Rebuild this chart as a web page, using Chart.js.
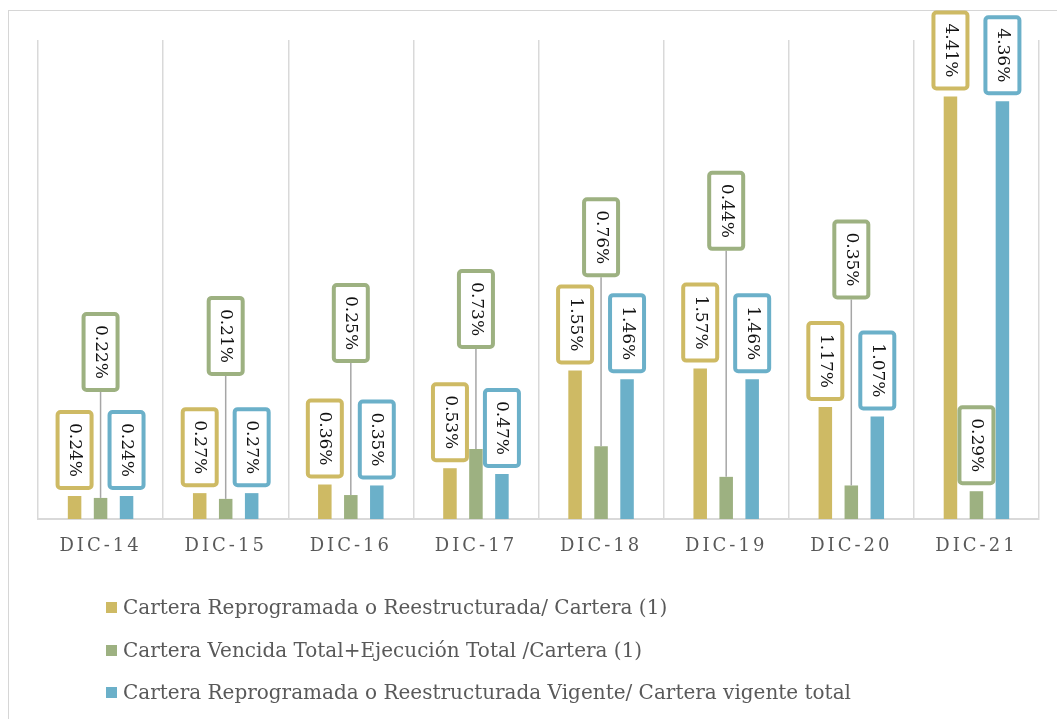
<!DOCTYPE html>
<html>
<head>
<meta charset="utf-8">
<script src="https://cdn.jsdelivr.net/npm/chart.js@4.4.1/dist/chart.umd.min.js"></script>
<style>
  html,body{margin:0;padding:0;background:#fff;overflow:hidden;width:1057px;height:719px;}
  #frame{position:absolute;left:8px;top:10px;width:1200px;height:900px;border:1px solid #d6d6d6;box-sizing:border-box;}
  #c{position:absolute;left:0;top:0;}
  #legend{position:absolute;left:106px;top:595px;font-family:"DejaVu Serif",serif;font-size:20px;color:#595959;}
  .row{height:42.7px;display:flex;align-items:flex-start;white-space:nowrap;}
  .sw{width:11px;height:11px;margin-top:7px;margin-right:6px;flex:none;}
</style>
</head>
<body>
<div id="frame"></div>
<canvas id="c" width="1057" height="719"></canvas>
<div id="legend"></div>
<script>
const categories = ["DIC-14","DIC-15","DIC-16","DIC-17","DIC-18","DIC-19","DIC-20","DIC-21"];
const seriesNames = [
  "Cartera Reprogramada o Reestructurada/ Cartera (1)",
  "Cartera Vencida Total+Ejecución Total /Cartera (1)",
  "Cartera Reprogramada o Reestructurada Vigente/ Cartera vigente total"
];
const reprogramada = [0.24,0.27,0.36,0.53,1.55,1.57,1.17,4.41];
const vencida      = [0.22,0.21,0.25,0.73,0.76,0.44,0.35,0.29];
const vigente      = [0.24,0.27,0.35,0.47,1.46,1.46,1.07,4.36];

const colors = ["#CEBA64","#9DB181","#6BB0C9"];
// extra label lift (px) for the middle series, as placed in the original
const labelLift = [[0,0,0,0,0,0,0,0],[100,117,126,94,163,220,180,0],[0,0,0,0,0,0,0,0]];

const labelPlugin = {
  id:'boxLabels',
  beforeDraw(chart){ chart.ctx.letterSpacing = '3px'; },
  beforeDatasetsDraw(chart){ chart.ctx.letterSpacing = '0px'; },
  afterDatasetsDraw(chart){
    const ctx = chart.ctx;
    ctx.save();
    ctx.letterSpacing = '0px';
    ctx.font = '17px "DejaVu Serif"';
    chart.data.datasets.forEach((ds,di)=>{
      const meta = chart.getDatasetMeta(di);
      meta.data.forEach((bar,i)=>{
        const txt = ds.data[i].toFixed(2)+'%';
        const bw = 38, bh = 80;
        const lift = labelLift[di][i];
        const bottom = bar.y - 6 - lift;
        const top = bottom - bh;
        const left = bar.x - bw/2;
        if (lift > 0){
          ctx.strokeStyle = '#a6a6a6';
          ctx.lineWidth = 1.5;
          ctx.beginPath();
          ctx.moveTo(bar.x, bottom);
          ctx.lineTo(bar.x, bar.y);
          ctx.stroke();
        }
        ctx.beginPath();
        ctx.roundRect(left+2, top+2, bw-4, bh-4, 3);
        ctx.fillStyle = '#fff';
        ctx.fill();
        ctx.lineWidth = 4;
        ctx.strokeStyle = ds.backgroundColor;
        ctx.stroke();
        ctx.save();
        ctx.translate(bar.x, top + bh/2);
        ctx.rotate(Math.PI/2);
        ctx.fillStyle = '#111';
        ctx.textAlign = 'center';
        ctx.textBaseline = 'middle';
        ctx.fillText(txt, 0, 0);
        ctx.restore();
      });
    });
    ctx.restore();
  }
};

const dataSets = [reprogramada, vencida, vigente].map((d,i)=>({
  label: seriesNames[i],
  data: d,
  backgroundColor: colors[i],
  borderWidth: 0,
  categoryPercentage: 0.623,
  barPercentage: 0.52
}));

new Chart(document.getElementById('c'), {
  type:'bar',
  data:{ labels: categories, datasets: dataSets },
  options:{
    responsive:false,
    animation:false,
    layout:{ padding:{ left:38, right:18, top:40, bottom:0 } },
    plugins:{ legend:{display:false}, tooltip:{enabled:false} },
    scales:{
      x:{
        grid:{ display:true, offset:true, color:'#d9d9d9', lineWidth:1.5, drawTicks:false },
        border:{ display:true, color:'#d9d9d9', width:2 },
        ticks:{ color:'#595959', font:{ family:'DejaVu Serif', size:18 }, padding:17, maxRotation:0, autoSkip:false },
        afterFit(s){ s.height = 200; }
      },
      y:{ display:false, min:0, max:5 }
    }
  },
  plugins:[labelPlugin]
});

const lg = document.getElementById('legend');
seriesNames.forEach((n,i)=>{
  const r = document.createElement('div'); r.className='row';
  const s = document.createElement('span'); s.className='sw'; s.style.background = colors[i];
  const t = document.createElement('span'); t.textContent = n;
  r.appendChild(s); r.appendChild(t); lg.appendChild(r);
});
</script>
</body>
</html>
